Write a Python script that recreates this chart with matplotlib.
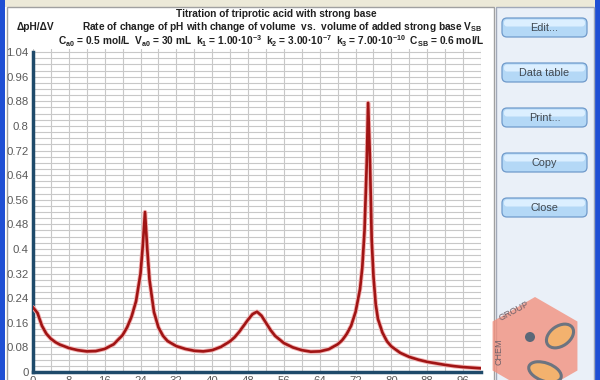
import matplotlib
matplotlib.use("Agg")
from matplotlib import pyplot as plt
from matplotlib.patches import Rectangle, FancyBboxPatch, Polygon, Circle, Ellipse
from matplotlib.transforms import Affine2D

plt.rcParams["font.family"] = ["Liberation Sans", "DejaVu Sans"]
plt.rcParams["mathtext.fontset"] = "custom"
plt.rcParams["mathtext.rm"] = "Liberation Sans:bold"
plt.rcParams["mathtext.it"] = "Liberation Sans:bold"
plt.rcParams["mathtext.bf"] = "Liberation Sans:bold"

# volume of added base (mL) and dpH/dV
volume = [0, 1, 2, 3, 4, 5, 6, 8, 10, 12, 14, 16, 18, 20, 21, 22, 23, 24, 24.5, 25,
          25.5, 26, 27, 28, 29, 30, 32, 34, 36, 38, 40, 42, 44, 45, 46, 47, 48, 49,
          50, 51, 52, 53, 54, 56, 58, 60, 62, 64, 66, 68, 69, 70, 71, 72, 73, 73.5,
          74, 74.5, 74.8, 75.2, 75.6, 76, 76.5, 77, 78, 79, 80, 82, 84, 86, 88, 90,
          92, 94, 96, 98, 100]
dph_dv = [0.210, 0.192, 0.150, 0.124, 0.108, 0.097, 0.089, 0.078, 0.071, 0.067,
          0.068, 0.075, 0.090, 0.120, 0.145, 0.180, 0.230, 0.320, 0.410, 0.520,
          0.400, 0.300, 0.195, 0.145, 0.118, 0.101, 0.084, 0.075, 0.069, 0.067,
          0.071, 0.082, 0.100, 0.113, 0.130, 0.150, 0.170, 0.188, 0.196, 0.183,
          0.160, 0.137, 0.118, 0.094, 0.080, 0.071, 0.066, 0.067, 0.074, 0.090,
          0.103, 0.123, 0.150, 0.195, 0.270, 0.340, 0.460, 0.680, 0.875, 0.700,
          0.430, 0.310, 0.220, 0.172, 0.128, 0.100, 0.083, 0.062, 0.049, 0.040,
          0.033, 0.028, 0.023, 0.019, 0.016, 0.014, 0.012]

x_ticks = [0, 8, 16, 24, 32, 40, 48, 56, 64, 72, 80, 88, 96]
y_ticks = [0, 0.08, 0.16, 0.24, 0.32, 0.4, 0.48, 0.56, 0.64, 0.72, 0.8, 0.88, 0.96, 1.04]
y_labels = ["0", "0.08", "0.16", "0.24", "0.32", "0.4", "0.48", "0.56", "0.64",
            "0.72", "0.8", "0.88", "0.96", "1.04"]
buttons = ["Edit...", "Data table", "Print...", "Copy", "Close"]

fig = plt.figure(figsize=(6, 3.8), dpi=100)
fig.patch.set_facecolor("white")
# pixel coords of the picture, y measured from the top
px = Affine2D().scale(1, -1).translate(0, 380).scale(1 / 100) + fig.dpi_scale_trans


def box(x, y, w, h, fc, ec="none", lw=0, z=0):
    fig.add_artist(Rectangle((x, y), w, h, transform=px, fc=fc, ec=ec, lw=lw, zorder=z))


# window frame
box(0, 0, 600, 7, "#ece9d8")
box(0, 0, 5, 380, "#1f4fd4")
box(595, 0, 5, 380, "#1f4fd4")
box(7, 7, 487, 380, "white", ec="#a0a0a0", lw=1)
box(496, 7, 98, 380, "#eaf0f8", ec="#a0a8b8", lw=1)

ax = fig.add_axes([33 / 600, 8 / 380, 448 / 600, 323 / 380])
ax.plot(volume, dph_dv, color="#f2b0b0", lw=3.2, solid_capstyle="round", zorder=3)
ax.plot(volume, dph_dv, color="#a01414", lw=1.9, zorder=4)
ax.set_xlim(0, 100)
ax.set_ylim(0, 1.05)
ax.set_xticks(x_ticks)
ax.set_xticks(range(0, 101, 4), minor=True)
ax.set_yticks(y_ticks)
ax.set_yticklabels(y_labels)
ax.set_yticks([i * 0.02 for i in range(53)], minor=True)
ax.grid(True, which="both", color="#c8c8c8", lw=0.8)
ax.set_axisbelow(True)
ax.tick_params(which="both", length=0, labelsize=8.2, labelcolor="#5a5a5a", pad=3)
for s in ["top", "right"]:
    ax.spines[s].set_visible(False)
for s in ["left", "bottom"]:
    ax.spines[s].set_color("#1e4a6a")
    ax.spines[s].set_linewidth(2.5)
ax.spines["left"].set_bounds(0, 1.04)

# titles
tkw = dict(transform=px, ha="center", va="center", fontweight="bold", color="#202020")
fig.text(276, 14, "Titration of triprotic acid with strong base", fontsize=7.3, **tkw)
fig.text(282, 26.5, r"Rate of change of pH with change of volume  vs.  volume of added strong base V$_{\mathregular{SB}}$",
         fontsize=7.3, **tkw)
fig.text(271, 41.5, r"C$_{\mathregular{a0}}$ = 0.5 mol/L  V$_{\mathregular{a0}}$ = 30 mL  "
         r"k$_{\mathregular{1}}$ = 1.00·10$^{\mathregular{-3}}$  k$_{\mathregular{2}}$ = 3.00·10$^{\mathregular{-7}}$  "
         r"k$_{\mathregular{3}}$ = 7.00·10$^{\mathregular{-10}}$  C$_{\mathregular{SB}}$ = 0.6 mol/L",
         fontsize=7.3, **tkw)
fig.text(17, 26.5, "ΔpH/ΔV", transform=px, ha="left", va="center", fontsize=7.3,
         fontweight="bold", color="#202020")

# buttons
for i, name in enumerate(buttons):
    y = 18 + i * 45
    fig.add_artist(FancyBboxPatch((502, y), 85, 19, boxstyle="round,pad=0,rounding_size=5",
                                  transform=px, fc="#b4d8f6", ec="#6f9acb", lw=0.9, zorder=5))
    fig.add_artist(FancyBboxPatch((504, y + 1.5), 81, 7, boxstyle="round,pad=0,rounding_size=3",
                                  transform=px, fc="#dcefff", ec="none", zorder=5))
    fig.text(544.5, y + 10, name, transform=px, ha="center", va="center",
             fontsize=7.8, color="#404850", zorder=6)

# logo watermark
cx, cy, r = 535, 346, 49
hexagon = [(cx, cy - r), (cx + 0.866 * r, cy - r / 2), (cx + 0.866 * r, cy + r / 2),
           (cx, cy + r), (cx - 0.866 * r, cy + r / 2), (cx - 0.866 * r, cy - r / 2)]
fig.add_artist(Polygon(hexagon, closed=True, transform=px, fc="#f2917f", ec="none",
                       alpha=0.8, zorder=7))
fig.add_artist(Ellipse((560, 336), 30, 20, angle=-35, transform=px, fc="#f3b26e",
                       ec="#6c7480", lw=2.2, zorder=8))
fig.add_artist(Ellipse((545, 372), 34, 18, angle=20, transform=px, fc="#f3b26e",
                       ec="#6c7480", lw=2.2, zorder=8))
fig.add_artist(Circle((530, 337), 5, transform=px, fc="#5b6878", ec="none", zorder=9))
fig.text(499, 352, "CHEM", transform=px, rotation=90, ha="center", va="center",
         fontsize=6.5, color="#6e6068", zorder=9)
fig.text(514, 311, "GROUP", transform=px, rotation=28, ha="center", va="center",
         fontsize=6.5, color="#6e6068", zorder=9)

fig.savefig("out.png", dpi=100)
